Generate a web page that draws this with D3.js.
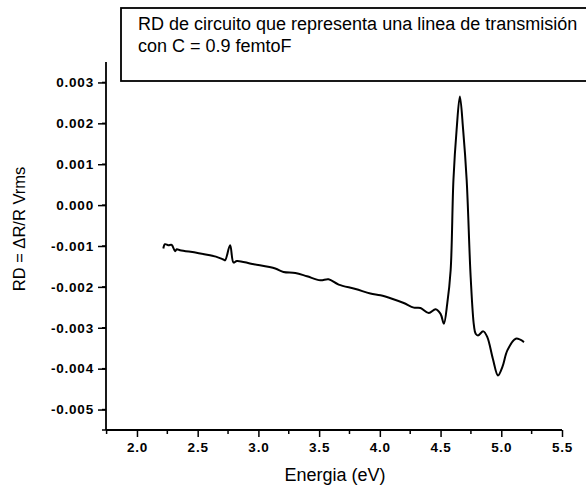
<!DOCTYPE html>
<html>
<head>
<meta charset="utf-8">
<script src="https://cdn.jsdelivr.net/npm/d3@7"></script>
<style>
  body { margin: 0; background: #fff; }
  text { font-family: Arial, "Liberation Sans", sans-serif; }
</style>
</head>
<body>
<svg id="chart" width="586" height="488"></svg>
<script>
// energy (eV) and RD values
var energy = [2.217, 2.231, 2.258, 2.286, 2.314, 2.328, 2.355, 2.5, 2.65, 2.712, 2.726, 2.767, 2.795, 2.823,
  2.95, 3.139, 3.207, 3.304, 3.4, 3.510, 3.578, 3.661, 3.8, 3.922, 4.005, 4.1, 4.197, 4.280, 4.335, 4.403, 4.459,
  4.50, 4.527, 4.555, 4.583, 4.606, 4.632, 4.659, 4.686, 4.715, 4.748, 4.775, 4.789, 4.808, 4.852, 4.885, 4.93,
  4.973, 5.010, 5.050, 5.119, 5.187];
var rd = [-1.061, -0.956, -0.980, -0.973, -1.127, -1.078, -1.103, -1.17, -1.26, -1.331, -1.348, -0.980, -1.404, -1.365,
  -1.44, -1.551, -1.635, -1.659, -1.74, -1.838, -1.814, -1.944, -2.05, -2.164, -2.206, -2.29, -2.395, -2.507, -2.517, -2.640, -2.549,
  -2.66, -2.900, -2.409, -1.593, 0.613, 1.838, 2.654, 1.838, 0.613, -1.765, -2.95, -3.145, -3.186, -3.088, -3.228, -3.75,
  -4.167, -3.95, -3.554, -3.267, -3.350].map(function(v) { return v / 1000; });

var xTicks = [2.0, 2.5, 3.0, 3.5, 4.0, 4.5, 5.0, 5.5];
var yTicks = [0.003, 0.002, 0.001, 0, -0.001, -0.002, -0.003, -0.004, -0.005];
var titleLines = ["RD de circuito que representa una linea de transmisión", "con C = 0.9 femtoF"];

var svg = d3.select("#chart");

var x = d3.scaleLinear().domain([1.745, 5.5]).range([106, 562]);
var y = d3.scaleLinear().domain([-0.0055, 0.0035]).range([430, 62]);

// minor ticks
var xMinor = d3.range(1.75, 5.5, 0.25).filter(function(d) { return Math.abs(d * 2 - Math.round(d * 2)) > 0.01; });
var yMinor = d3.range(-0.0055, 0.0035, 0.001).map(function(d) { return d + 0.0005; }).concat([-0.0055]);

var fmtY = function(d) { return d3.format(".3f")(d).replace("−", "-"); };

var gx = svg.append("g").attr("transform", "translate(0,430)")
  .call(d3.axisBottom(x).tickValues(xTicks).tickSize(7).tickPadding(5).tickFormat(d3.format(".1f")));
gx.append("g").selectAll("line").data(xMinor).enter().append("line")
  .attr("x1", function(d) { return x(d); }).attr("x2", function(d) { return x(d); })
  .attr("y1", 0).attr("y2", 4).attr("stroke", "#000").attr("stroke-width", 1.5);

var gy = svg.append("g").attr("transform", "translate(106,0)")
  .call(d3.axisLeft(y).tickValues(yTicks).tickSize(8).tickPadding(4).tickFormat(fmtY));
gy.append("g").selectAll("line").data(yMinor).enter().append("line")
  .attr("y1", function(d) { return y(d); }).attr("y2", function(d) { return y(d); })
  .attr("x1", 0).attr("x2", -4).attr("stroke", "#000").attr("stroke-width", 1.5);

svg.selectAll(".domain").attr("stroke-width", 1.8);
gx.select(".domain").attr("d", "M106,0H562");
gy.select(".domain").attr("d", "M0,62V430");
svg.selectAll(".tick line").attr("stroke-width", 1.5);
svg.selectAll(".tick text").attr("font-size", 13.5).attr("font-weight", "bold")
  .attr("letter-spacing", 0.8)
  .attr("font-family", "Arial, 'Liberation Sans', sans-serif");

// curve
var pts = energy.map(function(e, i) { return [e, rd[i]]; });
var line = d3.line()
  .x(function(d) { return x(d[0]); })
  .y(function(d) { return y(d[1]); })
  .curve(d3.curveCatmullRom.alpha(0.5));
svg.append("path").datum(pts).attr("d", line)
  .attr("fill", "none").attr("stroke", "#000").attr("stroke-width", 2);

// axis titles
svg.append("text").attr("x", 335).attr("y", 481).attr("text-anchor", "middle")
  .attr("font-size", 18).text("Energia (eV)");
svg.append("text").attr("transform", "translate(25,229) rotate(-90)").attr("text-anchor", "middle")
  .attr("font-size", 16.5).text("RD = ΔR/R Vrms");

// title box
svg.append("rect").attr("x", 121).attr("y", 8).attr("width", 480).attr("height", 73)
  .attr("fill", "#fff").attr("stroke", "#000").attr("stroke-width", 1.8);
svg.append("g").selectAll("text").data(titleLines).enter().append("text")
  .attr("x", 138).attr("y", function(d, i) { return 30 + i * 22; })
  .attr("font-size", 18).text(function(d) { return d; });
</script>
</body>
</html>
